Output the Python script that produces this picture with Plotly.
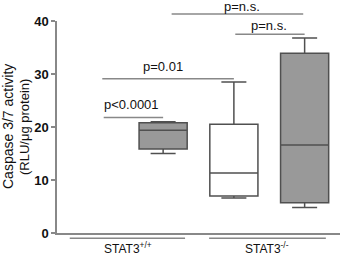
import plotly.graph_objects as go

# ---- data ----
positions = [1, 2, 3]
q1 = [15.85, 7.0, 5.7]
median = [19.4, 11.3, 16.6]
q3 = [20.8, 20.5, 33.9]
lowerfence = [15.0, 6.6, 4.8]
upperfence = [21.0, 28.5, 36.8]
fills = ["#999999", "#ffffff", "#999999"]

group_labels = ["STAT3<sup>+/+</sup>", "STAT3<sup>-/-</sup>"]
group_centers = [0.5, 2.47]
group_spans = [(-0.32, 1.31), (1.65, 3.30)]

sig_texts = ["p<0.0001", "p=0.01", "p=n.s.", "p=n.s."]
sig_line_y = [21.8, 29.1, 41.3, 37.5]
sig_x0 = [0.16, 0.14, 1.12, 2.02]
sig_x1 = [1.0, 2.0, 2.98, 3.0]
sig_text_x = [0.55, 1.0, 2.12, 2.5]
sig_text_y = [24.3, 31.4, 42.8, 39.2]

ytick_vals = [0, 10, 20, 30, 40]
Y_MAX = 40

FONT = "Arial, Liberation Sans, sans-serif"
GRAY = "#888888"
DARK = "#505050"

fig = go.Figure()
for i, p in enumerate(positions):
    fig.add_trace(go.Box(
        x=[p], q1=[q1[i]], median=[median[i]], q3=[q3[i]],
        lowerfence=[lowerfence[i]], upperfence=[upperfence[i]],
        width=0.68, whiskerwidth=0.52,
        fillcolor=fills[i], line=dict(color=DARK, width=1.5),
        boxpoints=False, showlegend=False, hoverinfo="skip",
    ))

shapes = []
for i in range(len(sig_texts)):
    shapes.append(dict(type="line", xref="x", yref="paper",
                       x0=sig_x0[i], x1=sig_x1[i],
                       y0=sig_line_y[i] / Y_MAX, y1=sig_line_y[i] / Y_MAX,
                       line=dict(color=GRAY, width=1.5)))
for (a, b) in group_spans:
    shapes.append(dict(type="line", xref="x", yref="paper",
                       x0=a, x1=b, y0=-1.0 / Y_MAX, y1=-1.0 / Y_MAX,
                       line=dict(color=GRAY, width=1.5)))

annotations = []
for i, t in enumerate(sig_texts):
    annotations.append(dict(text=t, x=sig_text_x[i], y=sig_text_y[i] / Y_MAX,
                            xref="x", yref="paper", showarrow=False,
                            xanchor="center", yanchor="middle",
                            font=dict(family=FONT, size=13, color="#111111")))
for lab, c in zip(group_labels, group_centers):
    annotations.append(dict(text=lab, x=c, y=-2.9 / Y_MAX, xref="x", yref="paper",
                            showarrow=False, xanchor="center", yanchor="middle",
                            font=dict(family=FONT, size=12, color="#111111")))
annotations.append(dict(text="Caspase 3/7 activity", xref="paper", yref="paper",
                        x=0, y=0.5, xshift=-49, textangle=-90, showarrow=False,
                        xanchor="center", yanchor="middle",
                        font=dict(family=FONT, size=14, color="#111111")))
annotations.append(dict(text="(RLU/μg protein)", xref="paper", yref="paper",
                        x=0, y=0.5, xshift=-33, textangle=-90, showarrow=False,
                        xanchor="center", yanchor="middle",
                        font=dict(family=FONT, size=13, color="#111111")))

fig.update_layout(
    width=340, height=255,
    margin=dict(l=57, r=0, t=21, b=22),
    plot_bgcolor="white", paper_bgcolor="white",
    shapes=shapes, annotations=annotations,
    xaxis=dict(range=[-0.5, 3.5], showticklabels=False, ticks="",
               showline=True, linecolor=GRAY, linewidth=1.5,
               showgrid=False, zeroline=False),
    yaxis=dict(range=[0, Y_MAX], tickvals=ytick_vals, ticks="outside",
               ticklen=4, tickcolor=GRAY, tickwidth=1.5,
               showline=True, linecolor=GRAY, linewidth=1.5,
               showgrid=False, zeroline=False,
               tickfont=dict(family=FONT, size=13, color="#111111", weight="bold")),
)

fig.write_html("out.html", config={"displayModeBar": False},
               post_script="document.body.style.margin='0';")
